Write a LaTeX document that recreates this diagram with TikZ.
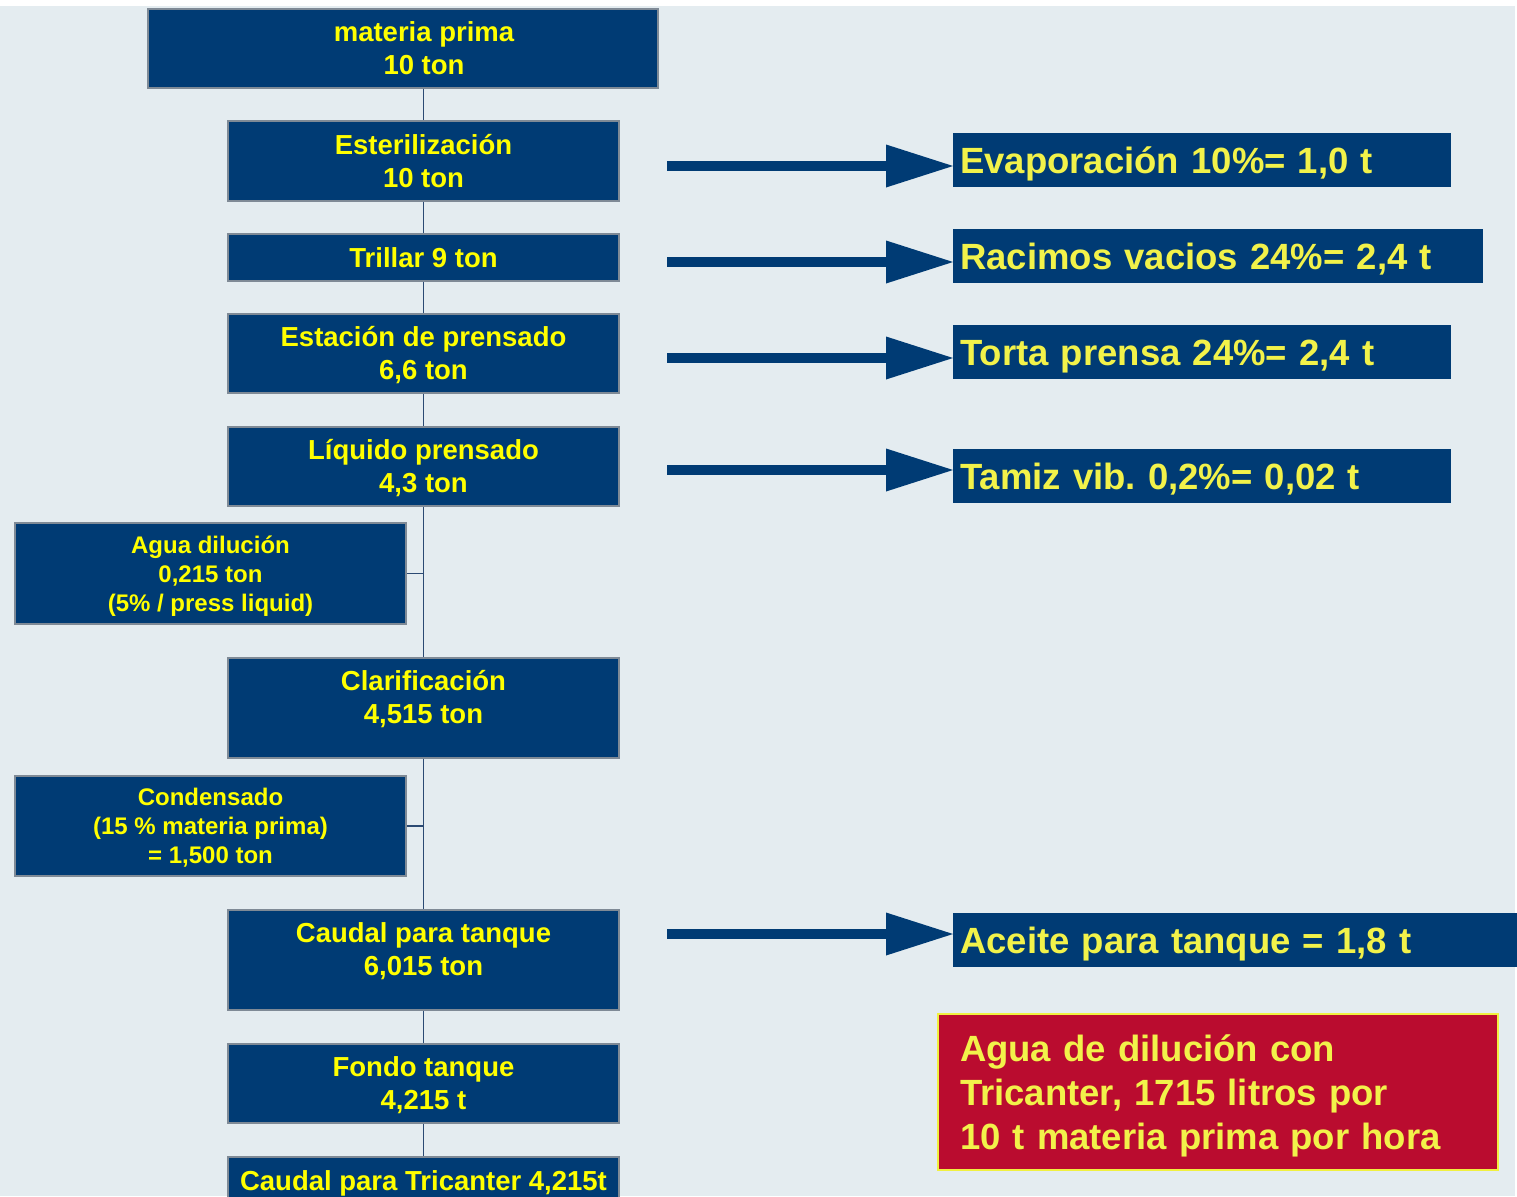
\documentclass[tikz,border=0pt]{standalone}
\usepackage{fontspec}
\setmainfont{Liberation Sans}
\usetikzlibrary{arrows.meta}
\frenchspacing
\definecolor{bgc}{HTML}{E4ECF0}
\definecolor{boxblue}{HTML}{003B74}
\definecolor{boxgray}{HTML}{7F8A96}
\definecolor{lineblue}{HTML}{2B4A73}
\definecolor{txtyellow}{HTML}{FFFF00}
\definecolor{bigyellow}{HTML}{F2F24A}
\definecolor{redbox}{HTML}{BA0C2F}
\definecolor{redborder}{HTML}{F0F040}
\tikzset{
  mainbox/.style={rectangle, fill=boxblue, draw=boxgray, line width=1.5pt, text=txtyellow,
    font=\fontsize{27.5}{33}\selectfont\bfseries, align=center, inner sep=0pt,
    minimum width=391pt, text height=52.7pt, text depth=0pt},
  oneline/.style={text height=19.7pt, text depth=0pt},
  sidebox/.style={mainbox, font=\fontsize{24}{29}\selectfont\bfseries, text height=75.2pt,
    text depth=0pt},
  outbox/.style={rectangle, fill=boxblue, draw=none, text=bigyellow, anchor=west,
    font=\fontsize{36.5}{44}\selectfont\bfseries, align=left, inner xsep=7pt, inner ysep=0pt,
    minimum height=54pt, text height=26.2pt, text depth=0pt},
  notebox/.style={rectangle, fill=redbox, draw=redborder, line width=2.5pt, text=bigyellow,
    font=\fontsize{36.5}{44}\selectfont\bfseries, align=left, inner xsep=22pt, inner ysep=0pt,
    text height=26.2pt, text depth=88pt},
  flowline/.style={draw=lineblue, line width=1.5pt},
  bigarrow/.style={draw=boxblue, line width=10pt,
    -{Triangle[length=67pt,width=43pt,line width=0pt]}, fill=boxblue},
}
\begin{document}
\begin{tikzpicture}[x=1pt, y=-1pt]
\useasboundingbox (0,0) rectangle (1517,1196);
\fill[white] (0,0) rectangle (1517,1196);
\fill[bgc] (0,6) rectangle (1515,1196);

% centre column
\node[mainbox, minimum width=510pt, minimum height=79pt] (mp) at (403,48.5)
  {\hspace*{42pt}materia prima\\\hspace*{42pt}10 ton};
\node[mainbox, minimum height=80pt] (est) at (423.5,161) {Esterilización\\10 ton};
\node[mainbox, oneline, minimum height=47pt] (tr) at (423.5,257.5) {Trillar 9 ton};
\node[mainbox, minimum height=79pt] (pr) at (423.5,353.5) {Estación de prensado\\6,6 ton};
\node[mainbox, minimum height=79pt] (lq) at (423.5,466.5) {Líquido prensado\\4,3 ton};
\node[sidebox, minimum height=101pt] (ag) at (210.5,573.5) {Agua dilución\\0,215 ton\\(5\% / press liquid)};
\node[mainbox, minimum height=100pt, text depth=21pt] (cl) at (423.5,708) {Clarificación\\4,515 ton};
\node[sidebox, minimum height=100pt] (cd) at (210.5,826) {Condensado\\(15 \% materia prima)\\= 1,500 ton};
\node[mainbox, minimum height=100pt, text depth=21pt] (ct) at (423.5,960) {Caudal para tanque\\6,015 ton};
\node[mainbox, minimum height=79pt] (ft) at (423.5,1083.5) {Fondo tanque\\4,215 t};
\node[mainbox, oneline, minimum height=47pt] (tc) at (423.5,1180.5) {Caudal para Tricanter 4,215t};

% connectors
\draw[flowline] (mp.south -| est.north) -- (est.north);
\draw[flowline] (est.south) -- (tr.north);
\draw[flowline] (tr.south) -- (pr.north);
\draw[flowline] (pr.south) -- (lq.north);
\draw[flowline] (lq.south) -- (cl.north);
\draw[flowline] (ag.east) -- (ag.east -| lq.south);
\draw[flowline] (cl.south) -- (ct.north);
\draw[flowline] (cd.east) -- (cd.east -| cl.south);
\draw[flowline] (ct.south) -- (ft.north);
\draw[flowline] (ft.south) -- (tc.north);

% output boxes
\node[outbox, text width=484pt] (ev) at (953,160) {Evaporación 10\%= 1,0 t};
\node[outbox, text width=516pt] (rv) at (953,256) {Racimos vacios 24\%= 2,4 t};
\node[outbox, text width=484pt] (tp) at (953,352) {Torta prensa 24\%= 2,4 t};
\node[outbox, text width=484pt] (tv) at (953,476) {Tamiz vib. 0,2\%= 0,02 t};
\node[outbox, text width=550pt] (ac) at (953,940) {Aceite para tanque = 1,8 t};

% arrows
\coordinate (a1) at (667,166);
\coordinate (a2) at (667,262);
\coordinate (a3) at (667,358);
\coordinate (a4) at (667,470);
\coordinate (a5) at (667,934);
\draw[bigarrow] (a1) -- (a1 -| ev.west);
\draw[bigarrow] (a2) -- (a2 -| rv.west);
\draw[bigarrow] (a3) -- (a3 -| tp.west);
\draw[bigarrow] (a4) -- (a4 -| tv.west);
\draw[bigarrow] (a5) -- (a5 -| ac.west);

% note
\node[notebox, text width=516pt, minimum height=156pt] (note) at (1218,1092)
  {Agua de dilución con\\Tricanter, 1715 litros por\\10 t materia prima por hora};
\end{tikzpicture}
\end{document}
